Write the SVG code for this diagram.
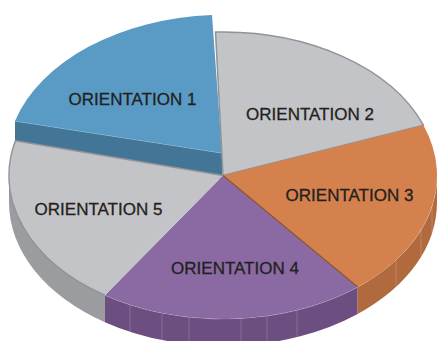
<svg xmlns="http://www.w3.org/2000/svg" width="438" height="341" viewBox="0 0 438 341">
<style>
.lbl{font-family:"Liberation Sans",Arial,sans-serif;font-size:17px;fill:#231f20;stroke:#231f20;stroke-width:0.3;text-anchor:middle}
.facet{stroke:#ffffff;stroke-opacity:0.18;stroke-width:1}
.hl{fill:none;stroke:#ffffff;stroke-opacity:0.35;stroke-width:1}
</style>
<rect width="438" height="341" fill="#ffffff"/>
<g id="slice1">
<polygon points="222,153 15,121 15,148 222,180" fill="#437596"/>
<line x1="15" y1="121" x2="222" y2="153" stroke="#a9c9de" stroke-width="0.8"/>
<path d="M222,153 L15,121 A218 147 0 0 1 212,15 Z" fill="#5a9bc6"/>
<text class="lbl" x="132.5" y="105">ORIENTATION 1</text>
</g>
<g id="walls">
<path d="M104.88,295.16 A214 143.5 0 0 1 9,175.5 L9,202.5 A214 143.5 0 0 0 104.88,322.16 Z" fill="#9b9c9f"/>
<path d="M357.67,287.02 A214 143.5 0 0 1 104.88,295.16 L104.88,322.16 A214 143.5 0 0 0 357.67,314.02 Z" fill="#6c4f80"/>
<path d="M437,175.5 A214 143.5 0 0 1 357.67,287.02 L357.67,314.02 A214 143.5 0 0 0 437,202.5 Z" fill="#b06a3e"/>
<g class="facet">
<line x1="130" y1="304.7" x2="130" y2="331.7"/>
<line x1="162" y1="313" x2="162" y2="340"/>
<line x1="189" y1="317.2" x2="189" y2="344"/>
<line x1="241" y1="318.5" x2="241" y2="345"/>
<line x1="267" y1="315.9" x2="267" y2="343"/>
<line x1="297" y1="310.1" x2="297" y2="337"/>
<line x1="396" y1="260" x2="396" y2="287"/>
<line x1="421" y1="229.9" x2="421" y2="256.9"/>
<line x1="432" y1="206.3" x2="432" y2="233.3"/>
</g>
<path class="hl" d="M437,175.5 A214 143.5 0 0 1 104.88,295.16"/>
</g>
<g id="slice2">
<path d="M223,175.5 L215.53,32.09 A214 143.5 0 0 1 423.45,125.24 Z" fill="#c3c4c7" stroke="#929397" stroke-width="1.5" stroke-linejoin="round"/>
<text class="lbl" x="310" y="120">ORIENTATION 2</text>
</g>
<g id="slice3">
<path d="M223,175.5 L423.45,125.24 A214 143.5 0 0 1 357.67,287.02 Z" fill="#d4814d"/>
<text class="lbl" x="349.5" y="200.5">ORIENTATION 3</text>
</g>
<g id="slice4">
<path d="M223,175.5 L357.67,287.02 A214 143.5 0 0 1 104.88,295.16 Z" fill="#8b6aa4"/>
<line x1="223" y1="175.5" x2="357.67" y2="287.02" stroke="#8a5532" stroke-width="1.2"/>
<text class="lbl" x="235" y="274">ORIENTATION 4</text>
</g>
<g id="slice5">
<path d="M223,175.5 L104.88,295.16 A214 143.5 0 0 1 15.36,140.78 Z" fill="#c3c4c7"/>
<path d="M104.88,295.16 A214 143.5 0 0 1 15.36,140.78 L223,175.5" fill="none" stroke="#929397" stroke-width="1.5" stroke-linejoin="round"/>
<text class="lbl" x="98.5" y="215">ORIENTATION 5</text>
</g>
<g id="connectors"></g>
</svg>
